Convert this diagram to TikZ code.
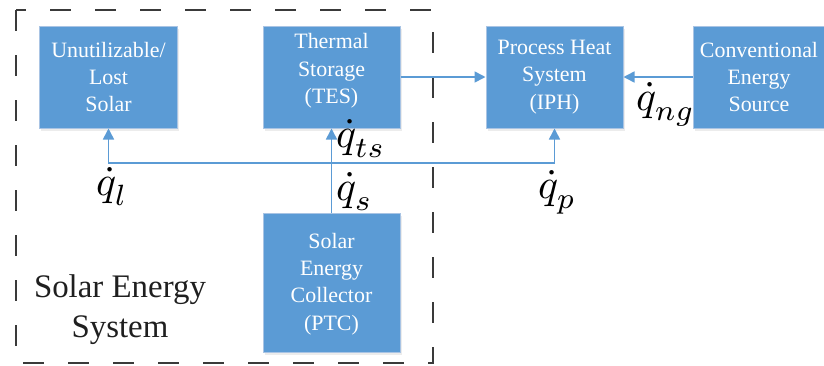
\documentclass[tikz,border=0pt]{standalone}
\usepackage{graphicx}
\usepackage{fontspec}
\setmainfont{Liberation Serif}
\usetikzlibrary{arrows.meta,shadows}
\definecolor{boxblue}{HTML}{5B9BD5}
\definecolor{boxedge}{HTML}{A9C4E4}
\definecolor{framegray}{HTML}{3A3A3A}
\newcommand{\bigq}[1]{\scalebox{4.2}{$\dot{q}_{\lower1.1pt\hbox{$\scriptstyle #1$}}$}}
\begin{document}
\begin{tikzpicture}[x=1bp,y=-1bp,
  box/.style={draw=boxedge, line width=1bp, fill=boxblue, minimum width=137bp, minimum height=102bp, inner sep=0pt,
    drop shadow={opacity=0.15, shadow xshift=1.5bp, shadow yshift=-2.5bp}},
  boxtext/.style={text=white, align=center, font=\fontsize{22}{27.5}\selectfont, inner sep=0pt},
  arr/.style={draw=boxblue, line width=1.6bp, -{Triangle[length=11bp,width=11bp]}},
  qlab/.style={anchor=base west, inner sep=0pt, font=\normalsize}]
\useasboundingbox (0,0) rectangle (824,365);
\draw[framegray, line width=1.8bp, dash pattern=on 21bp off 24bp] (16,10) rectangle (433,363);

\node[box] (unut) at (108.5,77) {};
\node[box] (tes) at (331.5,77) {};
\node[box] (iph) at (554.5,77) {};
\node[box, minimum width=132bp] (conv) at (759,77) {};
\node[box, minimum height=139bp] (ptc) at (331.5,282.5) {};

\node[boxtext] (unutt) at (108.5,77) {Unutilizable/\\Lost\\Solar};
\node[boxtext] (test) at (331.5,71) {Thermal\\Storage\\(TES)};
\node[boxtext] (ipht) at (554.5,77) {Process Heat\\System\\(IPH)};
\node[boxtext] (convt) at (759,77) {Conventional\\Energy\\Source};
\node[boxtext] (ptct) at (331.5,284) {Solar\\Energy\\Collector\\(PTC)};

\draw[arr] (tes.east) -- (iph.west);
\draw[arr] (conv.west) -- (iph.east);
\draw[arr] (ptc.north) -- (tes.south);
\coordinate (jn) at (331.5,163);
\draw[arr] (jn) -| (unut.south);
\draw[arr] (jn) -| (iph.south);

\node[qlab] (ql) at (96,195) {\bigq{l}};
\node[qlab] (qts) at (336,147) {\bigq{ts}};
\node[qlab] (qs) at (336,200) {\bigq{s}};
\node[qlab] (qp) at (538,198) {\bigq{p}};
\node[qlab] (qng) at (636,110) {\bigq{ng}};

\node[font=\fontsize{33}{40}\selectfont, align=center, text=black!88, inner sep=0pt] (ses) at (120,310) {Solar Energy\\System};
\end{tikzpicture}
\end{document}
